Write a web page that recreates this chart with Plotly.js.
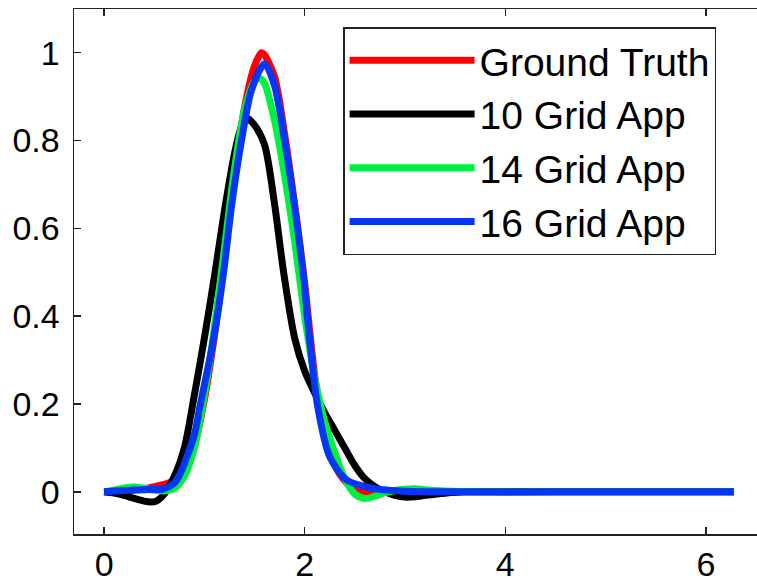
<!DOCTYPE html>
<html>
<head>
<meta charset="utf-8">
<script src="https://cdn.plot.ly/plotly-3.0.1.min.js"></script>
<style>html,body{margin:0;padding:0;background:#fff;}#chart{width:757px;height:583px;}</style>
</head>
<body>
<div id="chart"></div>
<script>
// Series names
const seriesNames = ["Ground Truth", "10 Grid App", "14 Grid App", "16 Grid App"];

// Ground Truth (red)
const xTruth = [0, 0.2, 0.4, 0.5, 0.6, 0.7, 0.8, 0.9, 1.0, 1.1, 1.2, 1.3, 1.4, 1.5, 1.57, 1.6, 1.7, 1.8, 1.9, 2.0, 2.1, 2.2, 2.3, 2.4, 2.5, 2.6, 2.7, 2.8, 3.2, 4.0, 5.0, 6.28];
const yTruth = [0, 0.002, 0.007, 0.012, 0.017, 0.026, 0.05, 0.105, 0.21, 0.355, 0.53, 0.72, 0.875, 0.97, 1.0, 0.995, 0.945, 0.815, 0.655, 0.475, 0.265, 0.13, 0.06, 0.025, 0.006, -0.002, -0.002, 0, 0, 0, 0, 0];

// 10 Grid App (black)
const x10 = [0, 0.1, 0.2, 0.3, 0.4, 0.46, 0.52, 0.6, 0.7, 0.8, 0.9, 1.0, 1.1, 1.2, 1.3, 1.36, 1.42, 1.5, 1.6, 1.7, 1.79, 1.9, 2.0, 2.1, 2.2, 2.3, 2.4, 2.5, 2.6, 2.7, 2.8, 2.9, 3.0, 3.1, 3.2, 3.4, 3.6, 4.0, 5.0, 6.28];
const y10 = [0, -0.003, -0.008, -0.015, -0.021, -0.023, -0.021, -0.005, 0.035, 0.10, 0.22, 0.35, 0.49, 0.64, 0.77, 0.825, 0.851, 0.835, 0.79, 0.655, 0.5, 0.35, 0.275, 0.225, 0.18, 0.14, 0.10, 0.06, 0.03, 0.012, 0.0, -0.008, -0.012, -0.011, -0.008, -0.003, 0, 0, 0, 0];

// 14 Grid App (green)
const x14 = [0, 0.1, 0.2, 0.3, 0.4, 0.5, 0.6, 0.7, 0.8, 0.9, 1.0, 1.1, 1.2, 1.3, 1.4, 1.5, 1.55, 1.6, 1.7, 1.8, 1.9, 2.0, 2.1, 2.2, 2.3, 2.4, 2.5, 2.6, 2.7, 2.8, 2.9, 3.0, 3.1, 3.2, 3.4, 3.7, 4.5, 5.5, 6.28];
const y14 = [0, 0.004, 0.009, 0.011, 0.008, 0.004, 0.002, 0.008, 0.035, 0.10, 0.22, 0.375, 0.555, 0.735, 0.87, 0.935, 0.942, 0.93, 0.845, 0.72, 0.57, 0.40, 0.26, 0.16, 0.09, 0.03, -0.005, -0.015, -0.01, -0.002, 0.003, 0.006, 0.007, 0.005, 0.002, 0, 0, 0, 0];

// 16 Grid App (blue)
const x16 = [0, 0.2, 0.4, 0.6, 0.7, 0.76, 0.9, 0.955, 1.09, 1.19, 1.27, 1.37, 1.47, 1.6, 1.7, 1.8, 1.9, 1.985, 2.05, 2.13, 2.25, 2.42, 2.68, 2.95, 3.5, 4.5, 5.5, 6.28];
const y16 = [0, 0.003, 0.005, 0.007, 0.02, 0.042, 0.13, 0.194, 0.346, 0.497, 0.649, 0.80, 0.915, 0.975, 0.925, 0.80, 0.649, 0.497, 0.346, 0.194, 0.08, 0.027, 0.008, 0.002, 0, 0, 0, 0];

const xTicks = [0, 2, 4, 6];
const yTicks = [0, 0.2, 0.4, 0.6, 0.8, 1];

const colors = ["#ff0000", "#000000", "#00f040", "#0536f5"];
const xs = [xTruth, x10, x14, x16];
const ys = [yTruth, y10, y14, y16];

const traces = seriesNames.map((n, i) => ({
  x: xs[i], y: ys[i], name: n, type: "scatter", mode: "lines",
  line: {color: colors[i], width: 7, shape: "spline", smoothing: 0.8}
}));

const fontFam = "Liberation Sans, Arial, sans-serif";
const layout = {
  width: 757, height: 583,
  margin: {l: 74, r: 0, t: 9, b: 49, pad: 0},
  paper_bgcolor: "#ffffff", plot_bgcolor: "#ffffff",
  showlegend: true,
  font: {family: fontFam, color: "#000"},
  xaxis: {
    range: [-0.3, 6.51], tickvals: xTicks, ticktext: xTicks.map(String),
    showgrid: false, zeroline: false, showline: true, linecolor: "#222", linewidth: 1.5,
    mirror: "ticks", ticks: "inside", ticklen: 7, tickwidth: 1.5, tickcolor: "#222",
    tickfont: {size: 34, family: fontFam, color: "#000"}, ticklabelstandoff: 0
  },
  yaxis: {
    range: [-0.096, 1.0995], tickvals: yTicks, ticktext: ["0", "0.2", "0.4", "0.6", "0.8", "1"],
    showgrid: false, zeroline: false, showline: true, linecolor: "#222", linewidth: 1.5,
    mirror: false, ticks: "inside", ticklen: 7, tickwidth: 1.5, tickcolor: "#222",
    tickfont: {size: 34, family: fontFam, color: "#000"}, ticklabelstandoff: 6
  },
  legend: {
    x: 0.394, y: 0.9657, xanchor: "left", yanchor: "top",
    bgcolor: "#ffffff", bordercolor: "#222", borderwidth: 1.5,
    font: {size: 39, family: fontFam, color: "#000"},
    itemwidth: 125, tracegroupgap: 0
  }
};

Plotly.newPlot("chart", traces, layout, {displayModeBar: false, staticPlot: true});
</script>
</body>
</html>
